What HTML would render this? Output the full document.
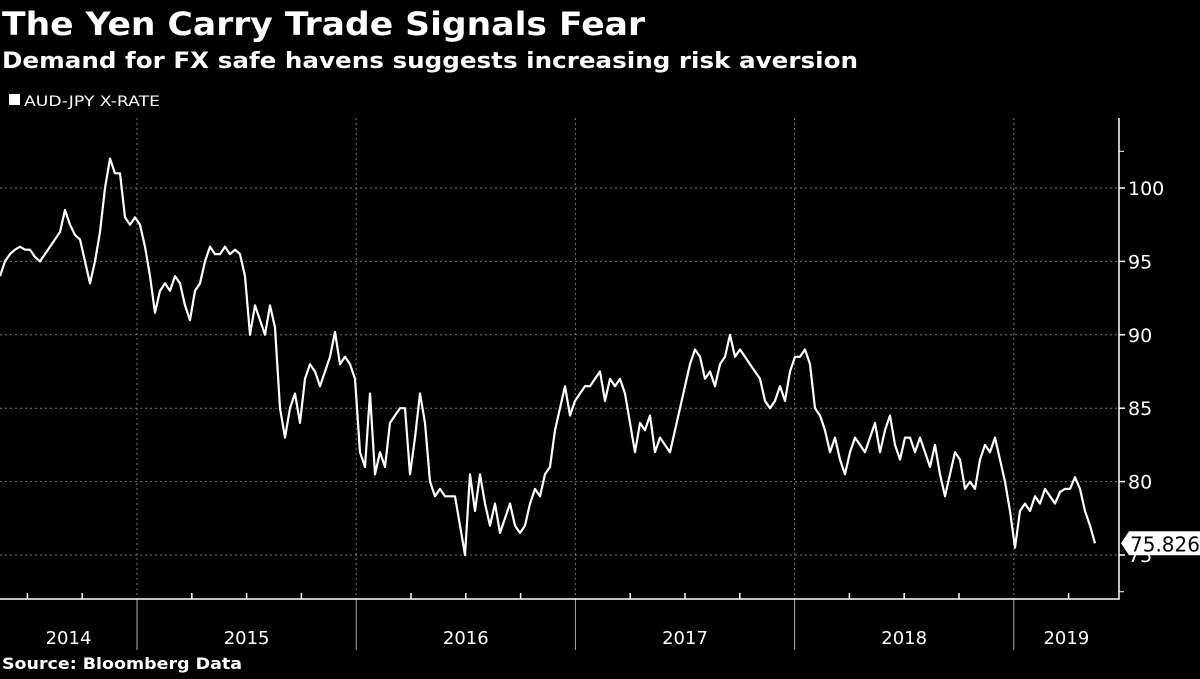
<!DOCTYPE html>
<html><head><meta charset="utf-8"><style>
body{margin:0;background:#000;width:1200px;height:675px;overflow:hidden;font-family:"DejaVu Sans","Liberation Sans",sans-serif;color:#fff}
</style></head><body>
<svg width="1200" height="675" viewBox="0 0 1200 675" font-family="DejaVu Sans, Liberation Sans, sans-serif">
<text x="2" y="35" font-size="32" font-weight="bold" fill="#fff" textLength="643" lengthAdjust="spacingAndGlyphs">The Yen Carry Trade Signals Fear</text>
<text x="2" y="68" font-size="22" font-weight="bold" fill="#fff" textLength="856" lengthAdjust="spacingAndGlyphs">Demand for FX safe havens suggests increasing risk aversion</text>
<rect x="9" y="94" width="11" height="11" fill="#fff"/>
<text x="24" y="106" font-size="14" fill="#fff" textLength="136" lengthAdjust="spacingAndGlyphs">AUD-JPY X-RATE</text>
<g id="grid"></g>
<g id="axes"></g>
<path id="line" fill="none" stroke="#fff" stroke-width="2.2" stroke-linejoin="round"/>
<g id="lastlabel"></g>
<text x="2" y="669" font-size="16" font-weight="bold" fill="#fff" textLength="240" lengthAdjust="spacingAndGlyphs">Source: Bloomberg Data</text>
</svg>
<script>
const values=[94,95,95.5,95.8,96,95.8,95.8,95.3,95,95.5,96,96.5,97,98.5,97.5,96.8,96.5,95,93.5,95,97,100,102,101,101,98,97.5,98,97.5,96,94,91.5,93,93.5,93,94,93.5,92,91,93,93.5,95,96,95.5,95.5,96,95.5,95.8,95.5,94,90,92,91,90,92,90.5,85,83,85,86,84,87,88,87.5,86.5,87.5,88.5,90.2,88,88.5,88,87,82,81,86,80.5,82,81,84,84.5,85,85,80.5,83,86,84,80,79,79.5,79,79,79,77,75,80.5,78,80.5,78.5,77,78.5,76.5,77.5,78.5,77,76.5,77,78.5,79.5,79,80.5,81,83.5,85,86.5,84.5,85.5,86,86.5,86.5,87,87.5,85.5,87,86.5,87,86,84,82,84,83.5,84.5,82,83,82.5,82,83.5,85,86.5,88,89,88.5,87,87.5,86.5,88,88.5,90,88.5,89,88.5,88,87.5,87,85.5,85,85.5,86.5,85.5,87.5,88.5,88.5,89,88,85,84.5,83.5,82,83,81.5,80.5,82,83,82.5,82,83,84,82,83.5,84.5,82.5,81.5,83,83,82,83,82,81,82.5,80.5,79,80.5,82,81.5,79.5,80,79.5,81.5,82.5,82,83,81.5,80,78,75.5,78,78.5,78,79,78.5,79.5,79,78.5,79.3,79.5,79.5,80.3,79.5,78,77,75.8];
const startYear=2014.375;
const stepYears=5/219.2;
const years=[2014,2015,2016,2017,2018,2019];
const yTicks=[75,80,85,90,95,100];
const lastLabel="75.826";

const X=t=>137+(t-2015)*219.2;
const Y=v=>555-(v-75)*14.68;
const NS="http://www.w3.org/2000/svg";
function mk(tag,attrs,parent){const e=document.createElementNS(NS,tag);for(const k in attrs)e.setAttribute(k,attrs[k]);parent.appendChild(e);return e;}
const grid=document.getElementById('grid'),axes=document.getElementById('axes');
yTicks.forEach(v=>{
  const l=mk('line',{x1:0,x2:1119,y1:Y(v),y2:Y(v),stroke:'#777','stroke-width':1,'stroke-dasharray':'2,3'},grid);
  
  
  const tk=mk('line',{x1:1119,x2:1125,y1:Y(v),y2:Y(v),stroke:'#fff','stroke-width':1.5},axes);
  
  
  const t=mk('text',{x:1128,y:Y(v)+7,'font-size':19,fill:'#fff'},axes);
  t.textContent=v;
  
  
});
[72.5,102.5].forEach(v=>{const tk=mk('line',{x1:1119,x2:1124,y1:Y(v),y2:Y(v),stroke:'#fff','stroke-width':1},axes);
  
  });
years.forEach((yr,i)=>{
  const x=X(yr);
  if(x>0){
    const g=mk('line',{x1:x,x2:x,y1:118,y2:599,stroke:'#777','stroke-width':1,'stroke-dasharray':'2,3'},grid);
    
    
    const d=mk('line',{x1:x,x2:x,y1:599,y2:650,stroke:'#aaa','stroke-width':1},axes);
    
    
  }
  for(let q=1;q<4;q++){const qx=X(yr+q/4);if(qx>0&&qx<1119){const tk=mk('line',{x1:qx,x2:qx,y1:593,y2:599,stroke:'#fff','stroke-width':1.5},axes);
    
    }}
  const a=Math.max(0,X(yr)),b=Math.min(1119,X(yr+1));
  const t=mk('text',{x:(a+b)/2,y:644,'font-size':18,fill:'#fff','text-anchor':'middle'},axes);
  t.textContent=yr;
  
  
});
const ax=mk('path',{d:'M0 599 H1119 V118',fill:'none',stroke:'#fff','stroke-width':1.5},axes);


let d='';
values.forEach((v,i)=>{d+=(i?'L':'M')+X(startYear+i*stepYears).toFixed(1)+' '+Y(v).toFixed(1);});
document.getElementById('line').setAttribute('d',d);
const lv=values[values.length-1],ly=Y(lv);
const lg=document.getElementById('lastlabel');
const box=mk('path',{d:`M1121 ${ly} L1129 ${ly-12} H1200 V${ly+12} H1129 Z`,fill:'#fff'},lg);


const lt=mk('text',{x:1130,y:ly+8,'font-size':20,fill:'#000'},lg);
lt.textContent=lastLabel;


</script>
</body></html>
